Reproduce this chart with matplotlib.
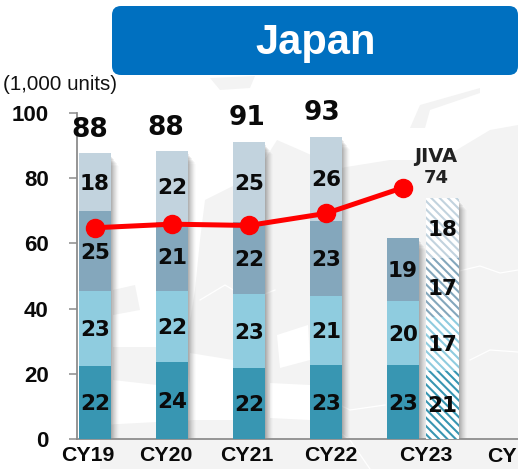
import matplotlib
matplotlib.use("Agg")
import matplotlib.pyplot as plt
from matplotlib.patches import FancyBboxPatch, Polygon
import numpy as np

plt.rcParams['hatch.linewidth'] = 1.5

years = ["CY19", "CY20", "CY21", "CY22", "CY23"]
seg1 = [22.4, 23.5, 21.8, 22.7, 22.7]
seg2 = [22.9, 21.9, 22.6, 21.1, 19.6]
seg3 = [24.6, 21.2, 22.2, 23.1, 19.4]
seg4 = [17.7, 21.7, 24.5, 25.8, 0]
lab1 = ["22", "24", "22", "23", "23"]
lab2 = ["23", "22", "23", "21", "20"]
lab3 = ["25", "21", "22", "23", "19"]
lab4 = ["18", "22", "25", "26", ""]
totals = ["88", "88", "91", "93"]
line_vals = [64.8, 65.9, 65.5, 69.2, 77.1]
jiva_vals = [21.0, 16.5, 17.9, 18.5]
jiva_labs = ["21", "17", "17", "18"]
colors = ["#3896b2", "#8fccdf", "#84a7bc", "#c2d3de"]
yticks = [0, 20, 40, 60, 80, 100]

W, H = 518, 469
fig = plt.figure(figsize=(W/100, H/100), dpi=100, facecolor="white")

# background world-map wash
bg = fig.add_axes([0, 0, 1, 1], zorder=0)
bg.set_xlim(0, W); bg.set_ylim(H, 0); bg.axis("off")
land = "#f3f3f3"
shapes = [
    [(277,140),(300,150),(340,168),(390,160),(440,160),(490,130),(518,125),(518,469),(100,469),
     (100,425),(195,420),(185,353),(195,290),(200,240),(205,200),(255,175)],
    [(113,347),(157,347),(157,385),(113,380)],
    [(113,290),(135,285),(140,310),(113,315)],
    [(410,128),(420,105),(480,88),(480,93),(430,110),(425,128)],
    [(210,78),(255,76),(250,88),(220,90)],
]
for s in shapes:
    bg.add_patch(Polygon(s, closed=True, fc=land, ec="none"))
for s in [[(190,353),(233,360),(240,420),(190,420)],
          [(270,383),(310,385),(310,420),(270,418)],
          [(277,335),(308,325),(310,360),(280,368)]]:
    bg.add_patch(Polygon(s, closed=True, fc="white", ec="none"))
for xs, ys in [([455,480,500,518],[272,266,273,270]), ([470,490,518],[360,350,352],), ([200,225,250,275],[300,285,300,290]),
               ([285,320,350,385],[400,395,410,405]), ([120,150,175],[400,412,395]), ([370,350,330],[469,440,425])]:
    bg.plot(xs, ys, color="white", lw=0.9)

# title banner
bg.add_patch(FancyBboxPatch((112, 6), 406, 69, boxstyle="round,pad=0,rounding_size=9",
                            fc="#0070c0", ec="none"))
bg.text(316, 43, "Japan", color="white", fontsize=30, fontweight="bold",
        family="Liberation Sans", ha="center", va="center")
bg.text(3, 84, "(1,000 units)", color="#111111", fontsize=14.8, family="Liberation Sans",
        ha="left", va="center")

# chart axes
x0_px, unit = 95.0, 77.0
ax = fig.add_axes([76.5/W, (H-439)/H, (W-76.5)/W, (439-113)/H], zorder=1)
ax.patch.set_alpha(0)
ax.set_xlim((76.5-x0_px)/unit, (W-x0_px)/unit)
ax.set_ylim(0, 100)
x = np.arange(len(years), dtype=float)
bw = 32.5/unit
jx = 4 + 39.5/unit
nudge = -0.5

def shadow(xc, h):
    for i, a in enumerate(np.linspace(0.11, 0.025, 8)):
        ax.bar(xc + (1.0 + i)/unit, h - (1.0 + i*0.4), width=bw, color="#555555", alpha=a, lw=0, zorder=2)

totals_h = np.sum([seg1, seg2, seg3, seg4], axis=0)
for xc, h in zip(x, totals_h):
    shadow(xc, h)
shadow(jx, sum(jiva_vals))

bottom = np.zeros(len(x))
label_sets = [lab1, lab2, lab3, lab4]
for vals, labs, c in zip([seg1, seg2, seg3, seg4], label_sets, colors):
    ax.bar(x, vals, bottom=bottom, width=bw, color=c, lw=0, zorder=3)
    for xc, b, v, t in zip(x, bottom, vals, labs):
        if t:
            ax.text(xc, b + v/2 + nudge, t, ha="center", va="center", fontsize=15.5, fontweight="bold",
                    color="#0a0a0a", zorder=6)
    bottom += np.array(vals)

b = 0
for v, t, c in zip(jiva_vals, jiva_labs, colors):
    ax.bar(jx, v, bottom=b, width=bw, facecolor="white", edgecolor=c, hatch="\\\\\\\\", lw=0, zorder=3)
    ax.text(jx, b + v/2 + nudge, t, ha="center", va="center", fontsize=15.5, fontweight="bold",
            color="#0a0a0a", zorder=6)
    b += v

ax.plot(x, line_vals, color="#ff0000", lw=3.6, marker="o", ms=13, mec="#ff0000", zorder=5,
        solid_capstyle="round")

# totals above bars, hand-placed as in the source slide
for xc, t, y, dx in zip(x, totals, [94.9, 95.4, 98.5, 99.9], [-0.065, -0.08, -0.026, -0.05]):
    ax.text(xc + dx, y, t, ha="center", va="center", fontsize=19, fontweight="bold", color="#0a0a0a", zorder=6)
ax.text((436-x0_px)/unit, 86.7, "JIVA", ha="center", va="center", fontsize=14, fontweight="bold", color="#222222", zorder=6)
ax.text((436-x0_px)/unit, 80, "74", ha="center", va="center", fontsize=13, fontweight="bold", color="#222222", zorder=6)

for s in ["top", "right"]:
    ax.spines[s].set_visible(False)
for s in ["left", "bottom"]:
    ax.spines[s].set_color("#8c8c8c")
    ax.spines[s].set_linewidth(1.3)
ax.set_yticks(yticks)
ax.tick_params(axis="y", direction="out", length=6, width=1.1, color="#8c8c8c", pad=14)
for lb in ax.get_yticklabels():
    lb.set_fontfamily("Liberation Sans"); lb.set_fontweight("bold"); lb.set_fontsize(16); lb.set_color("#0a0a0a")

lab_px = [88, 165.5, 246.5, 331, 425.7]
ax.set_xticks([(p - x0_px)/unit for p in lab_px])
ax.set_xticklabels(years, fontfamily="Liberation Sans", fontweight="bold", fontsize=15.3, color="#0a0a0a")
ax.tick_params(axis="x", length=0, pad=5)
ax.text((517 - x0_px)/unit, -5.5, "CY", ha="right", va="center", fontfamily="Liberation Sans",
        fontweight="bold", fontsize=15.3, color="#0a0a0a", clip_on=False)

fig.savefig("out.png", dpi=100)
